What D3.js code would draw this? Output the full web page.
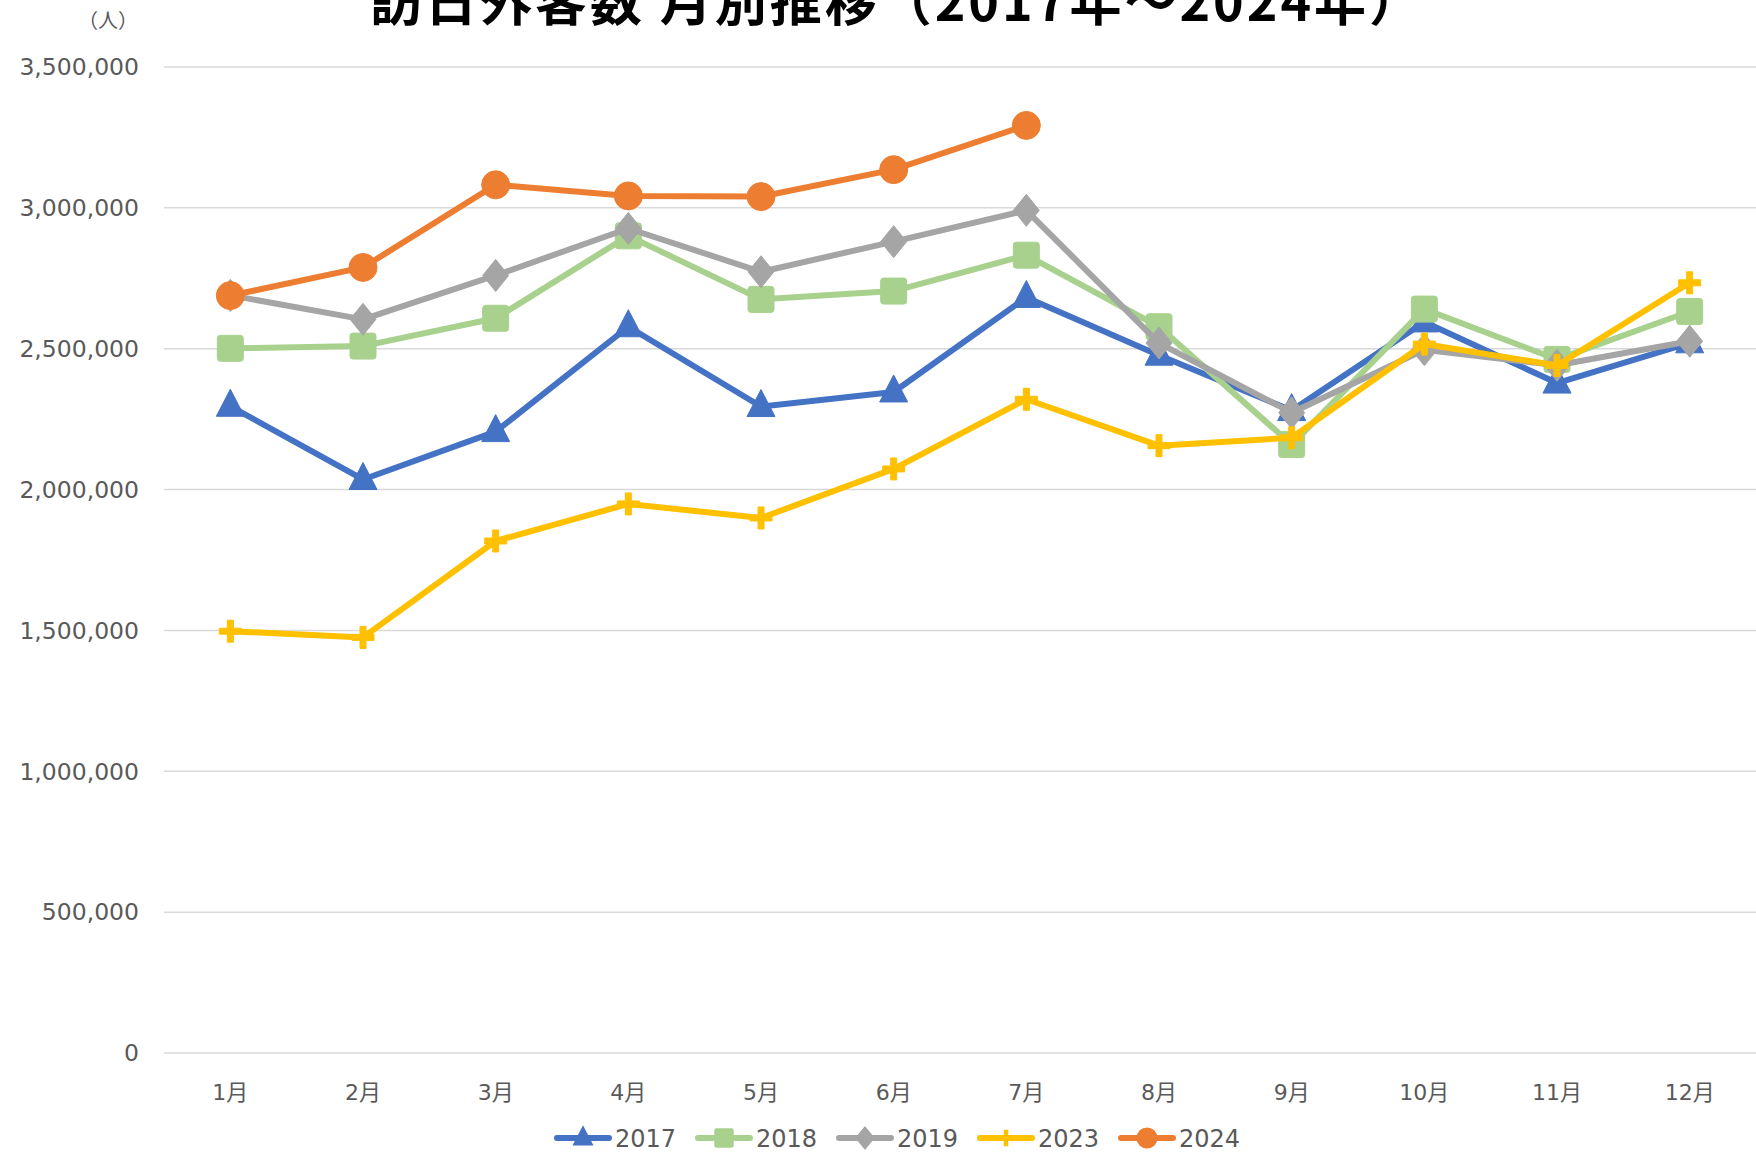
<!DOCTYPE html>
<html>
<head>
<meta charset="utf-8">
<script src="https://cdn.jsdelivr.net/npm/d3@7"></script>
<style>
  body { margin: 0; background: #fff; }
  text { font-family: "DejaVu Sans", "Noto Sans CJK JP", sans-serif; fill: #595959; }
</style>
</head>
<body>
<svg id="chart" width="1756" height="1154"></svg>
<script>
/* data */
const months = ["1月", "2月", "3月", "4月", "5月", "6月", "7月", "8月", "9月", "10月", "11月", "12月"];
const v2017 = [2295700, 2035800, 2205700, 2578000, 2294700, 2346500, 2682000, 2477000, 2280400, 2595000, 2378000, 2521000];
const v2018 = [2501400, 2509300, 2608000, 2900700, 2675100, 2704600, 2832000, 2578000, 2159600, 2640600, 2462000, 2632000];
const v2019 = [2689300, 2604300, 2760100, 2926700, 2773100, 2880000, 2991200, 2520100, 2272900, 2496600, 2441300, 2526400];
const v2023 = [1497300, 1475300, 1817500, 1949100, 1899200, 2073300, 2320600, 2155900, 2183900, 2516500, 2440600, 2733900];
const v2024 = [2688500, 2788500, 3081800, 3042300, 3040000, 3135600, 3292600];
const yTicks = [0, 500000, 1000000, 1500000, 2000000, 2500000, 3000000, 3500000];

const series = [
  { name: "2017", values: v2017, color: "#4472C4", marker: "triangle" },
  { name: "2018", values: v2018, color: "#A9D18E", marker: "square" },
  { name: "2019", values: v2019, color: "#A5A5A5", marker: "diamond" },
  { name: "2023", values: v2023, color: "#FFC000", marker: "plus" },
  { name: "2024", values: v2024, color: "#ED7D31", marker: "circle" }
];

/* marker shapes, drawn around (0,0) */
function markerPath(kind) {
  const p = d3.path();
  if (kind === "triangle") {
    p.moveTo(0, -17); p.lineTo(14, 10); p.lineTo(-14, 10); p.closePath();
  } else if (kind === "square") {
    const s = 13;
    p.moveTo(-s + 3, -s); p.lineTo(s - 3, -s); p.quadraticCurveTo(s, -s, s, -s + 3);
    p.lineTo(s, s - 3); p.quadraticCurveTo(s, s, s - 3, s);
    p.lineTo(-s + 3, s); p.quadraticCurveTo(-s, s, -s, s - 3);
    p.lineTo(-s, -s + 3); p.quadraticCurveTo(-s, -s, -s + 3, -s); p.closePath();
  } else if (kind === "diamond") {
    p.moveTo(0, -16); p.lineTo(13, 0); p.lineTo(0, 16); p.lineTo(-13, 0); p.closePath();
  } else if (kind === "plus") {
    const a = 11, w = 3;
    p.moveTo(-w, -a); p.lineTo(w, -a); p.lineTo(w, -w); p.lineTo(a, -w); p.lineTo(a, w);
    p.lineTo(w, w); p.lineTo(w, a); p.lineTo(-w, a); p.lineTo(-w, w); p.lineTo(-a, w);
    p.lineTo(-a, -w); p.lineTo(-w, -w); p.closePath();
  } else {
    p.arc(0, 0, 14, 0, 2 * Math.PI); p.closePath();
  }
  return p.toString();
}

const svg = d3.select("#chart");
const margin = { top: 67, right: 0, bottom: 101, left: 164 };
const W = 1756, H = 1154;
const innerW = W - margin.left - margin.right;
const innerH = H - margin.top - margin.bottom;
const g = svg.append("g").attr("transform", `translate(${margin.left},${margin.top})`);

const x = d3.scaleBand().domain(months).range([0, innerW]);
const y = d3.scaleLinear().domain([0, 3500000]).range([innerH, 0]);

/* gridlines */
g.append("g").selectAll("line").data(yTicks).join("line")
  .attr("x1", 0).attr("x2", innerW)
  .attr("y1", d => y(d)).attr("y2", d => y(d))
  .attr("stroke", "#D9D9D9").attr("stroke-width", 1.5);

/* y labels */
const fmt = d3.format(",");
g.append("g").selectAll("text").data(yTicks).join("text")
  .attr("x", -25).attr("y", d => y(d)).attr("dy", "0.35em")
  .attr("text-anchor", "end").attr("font-size", 23.5)
  .text(d => fmt(d));

/* x labels */
g.append("g").selectAll("text").data(months).join("text")
  .attr("x", d => x(d) + x.bandwidth() / 2).attr("y", innerH + 47)
  .attr("text-anchor", "middle").attr("font-size", 22)
  .text(d => d);

/* series */
const line = d3.line().x((d, i) => x(months[i]) + x.bandwidth() / 2).y(d => y(d));
series.forEach(s => {
  const sg = g.append("g");
  sg.append("path").datum(s.values)
    .attr("fill", "none").attr("stroke", s.color).attr("stroke-width", 6)
    .attr("stroke-linejoin", "round").attr("d", line);
  sg.selectAll("path.m").data(s.values).join("path").attr("class", "m")
    .attr("transform", (d, i) => `translate(${x(months[i]) + x.bandwidth() / 2},${y(d)})`)
    .attr("d", markerPath(s.marker)).attr("fill", s.color)
    .attr("stroke", s.color).attr("stroke-width", 1).attr("stroke-linejoin", "round");
});

/* title and unit */
svg.append("text").attr("x", 897).attr("y", 21).attr("text-anchor", "middle")
  .attr("font-size", 52).attr("font-weight", "bold").attr("letter-spacing", 3)
  .style("fill", "#000").style("font-family", "'Noto Sans CJK JP', sans-serif")
  .text("訪日外客数 月別推移（2017年～2024年）");
svg.append("text").attr("x", 108).attr("y", 28).attr("text-anchor", "middle")
  .attr("font-size", 20).style("font-family", "'Noto Sans CJK JP', sans-serif")
  .text("（人）");

/* legend */
const legend = svg.append("g").attr("transform", "translate(557,1138)");
series.forEach((s, i) => {
  const row = legend.append("g").attr("transform", `translate(${i * 141},0)`);
  row.append("line").attr("x1", 0).attr("x2", 52).attr("y1", 0).attr("y2", 0)
    .attr("stroke", s.color).attr("stroke-width", 6).attr("stroke-linecap", "round");
  row.append("path").attr("transform", "translate(26,0) scale(0.75)")
    .attr("d", markerPath(s.marker)).attr("fill", s.color);
  row.append("text").attr("x", 58).attr("y", 0).attr("dy", "0.36em")
    .attr("font-size", 24).text(s.name);
});
</script>
</body>
</html>
